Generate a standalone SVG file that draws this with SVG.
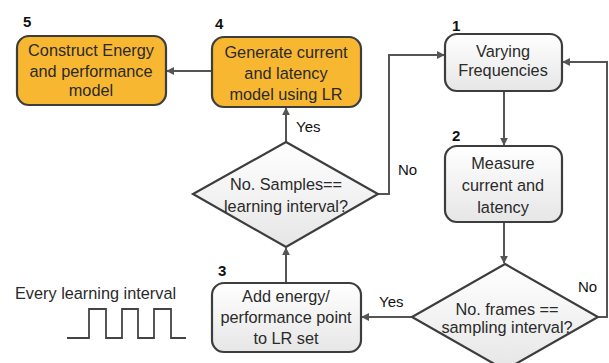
<svg xmlns="http://www.w3.org/2000/svg" width="609" height="363" viewBox="0 0 609 363">
<defs>
<linearGradient id="g" x1="0" y1="0" x2="0" y2="1"><stop offset="0" stop-color="#ffffff"/><stop offset="1" stop-color="#e6e6e6"/></linearGradient>
<marker id="ah" viewBox="0 0 10 10" refX="9" refY="5" markerWidth="4" markerHeight="4" orient="auto"><path d="M0,0 L10,5 L0,10 z" fill="#555"/></marker>
<style>
.org{fill:#F8B730;stroke:#3d3d3d;stroke-width:2.2}
.gry{fill:url(#g);stroke:#3d3d3d;stroke-width:2.2}
.t{font-family:"Liberation Sans",Arial,sans-serif;font-size:16.3px;fill:#2a2a2a;text-anchor:middle}
.n{font-family:"Liberation Sans",Arial,sans-serif;font-size:15px;fill:#111}
.c{fill:none;stroke:#555;stroke-width:2;marker-end:url(#ah)}
.w{fill:none;stroke:#444;stroke-width:1.8}
</style>
</defs>
<rect width="609" height="363" fill="#fff"/>
<g id="connectors">
<path class="c" d="M212,71 L167,71"/>
<path class="c" d="M286,142 L286,108"/>
<path class="c" d="M286,283 L286,248"/>
<path class="c" d="M378,194 L389,194 L389,55 L444,55"/>
<path class="c" d="M504,91 L504,145"/>
<path class="c" d="M504,222 L504,263"/>
<path class="c" d="M412,317 L362,317"/>
<path class="c" d="M598,317 L607,317 L607,62 L563,62"/>
<text class="n" x="296" y="132">Yes</text>
<text class="n" x="398" y="175">No</text>
<text class="n" x="379" y="307">Yes</text>
<text class="n" x="578" y="292">No</text>
</g>
<g id="n5">
<rect class="org" x="17" y="36" width="149" height="69" rx="12"/>
<text class="n" x="23" y="27" font-weight="bold">5</text>
<text class="t" x="91" y="56">Construct Energy</text>
<text class="t" x="91" y="77">and performance</text>
<text class="t" x="91" y="96">model</text>
</g>
<g id="n4">
<rect class="org" x="212" y="37" width="149" height="70" rx="12"/>
<text class="n" x="215" y="29" font-weight="bold">4</text>
<text class="t" x="286" y="58">Generate current</text>
<text class="t" x="286" y="79">and latency</text>
<text class="t" x="286" y="100">model using LR</text>
</g>
<g id="n1">
<rect class="gry" x="445" y="34" width="117" height="57" rx="12"/>
<text class="n" x="452" y="31" font-weight="bold">1</text>
<text class="t" x="503" y="57">Varying</text>
<text class="t" x="503" y="76">Frequencies</text>
</g>
<g id="n2">
<rect class="gry" x="445" y="146" width="117" height="76" rx="12"/>
<text class="n" x="452" y="141" font-weight="bold">2</text>
<text class="t" x="503" y="169">Measure</text>
<text class="t" x="503" y="191">current and</text>
<text class="t" x="503" y="213">latency</text>
</g>
<g id="d1">
<polygon class="gry" points="286,142 378,194 286,247 193,194"/>
<text class="t" x="286" y="190">No. Samples==</text>
<text class="t" x="286" y="212">learning interval?</text>
</g>
<g id="n3">
<rect class="gry" x="212" y="283" width="149" height="69" rx="12"/>
<text class="n" x="218" y="276" font-weight="bold">3</text>
<text class="t" x="286" y="302">Add energy/</text>
<text class="t" x="286" y="323">performance point</text>
<text class="t" x="286" y="344">to LR set</text>
</g>
<g id="d2">
<polygon class="gry" points="505,264 598,317 505,370 412,317"/>
<text class="t" x="507" y="315">No. frames ==</text>
<text class="t" x="507" y="333">sampling interval?</text>
</g>
<g id="legend">
<text class="t" x="15" y="299" style="text-anchor:start">Every learning interval</text>
<path class="w" d="M67,338 L89,338 L89,309 L106,309 L106,338 L122,338 L122,309 L138,309 L138,338 L154,338 L154,309 L171,309 L171,338 L186,338"/>
</g>
</svg>
